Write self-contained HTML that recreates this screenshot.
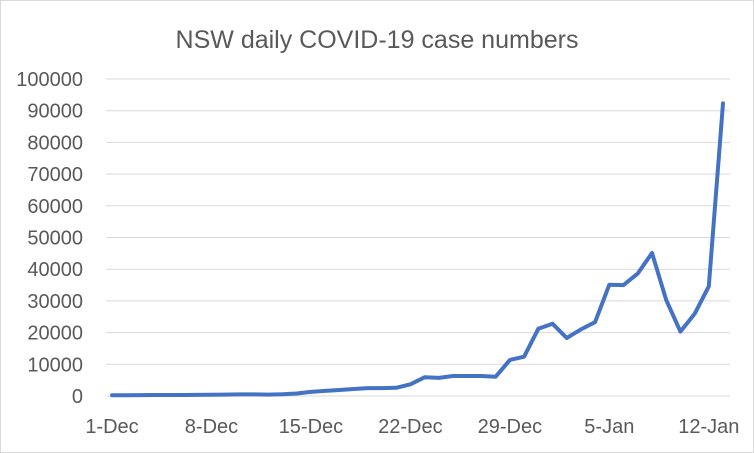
<!DOCTYPE html>
<html><head><meta charset="utf-8"><style>
body{margin:0;background:#fff;}
svg{display:block;font-family:"Liberation Sans",Calibri,sans-serif;}
</style></head><body>
<svg width="754" height="453">
<rect x="0.5" y="0.5" width="753" height="452" fill="#fff" stroke="#d9d9d9"/>
<text x="377" y="48" text-anchor="middle" font-size="25" fill="#595959">NSW daily COVID-19 case numbers</text>
<g id="grid"></g><g id="ylab"></g><g id="xlab"></g>
<polyline id="line" fill="none" stroke="#4472C4" stroke-width="4" stroke-linejoin="round" stroke-linecap="round"/>
</svg>
<script>
const xTickLabels=["1-Dec","8-Dec","15-Dec","22-Dec","29-Dec","5-Jan","12-Jan"];
const yTicks=[0,10000,20000,30000,40000,50000,60000,70000,80000,90000,100000];
const cases=[250,260,270,300,320,320,340,400,450,500,520,430,550,800,1300,1600,1900,2200,2500,2500,2600,3700,5900,5700,6300,6300,6300,6100,11400,12400,21200,22800,18300,21000,23300,35100,35000,38600,45100,30300,20300,25900,34600,92300];
const NS="http://www.w3.org/2000/svg";
const x=i=>112+i*(611/43);
const y=v=>396-v*(317/100000);
const grid=document.getElementById('grid'),yl=document.getElementById('ylab'),xl=document.getElementById('xlab');
yTicks.forEach(t=>{
 const l=document.createElementNS(NS,'line');
 l.setAttribute('x1',106);l.setAttribute('x2',730);l.setAttribute('y1',y(t));l.setAttribute('y2',y(t));
 l.setAttribute('stroke','#d9d9d9');l.setAttribute('stroke-width','1');
 
 
 grid.appendChild(l);
 const tx=document.createElementNS(NS,'text');
 tx.setAttribute('x',83);tx.setAttribute('y',y(t)+7);tx.setAttribute('text-anchor','end');
 tx.setAttribute('font-size','20');tx.setAttribute('fill','#595959');tx.textContent=t;
 
 
 yl.appendChild(tx);
});
xTickLabels.forEach((s,k)=>{
 const tx=document.createElementNS(NS,'text');
 tx.setAttribute('x',x(k*7));tx.setAttribute('y',433);tx.setAttribute('text-anchor','middle');
 tx.setAttribute('font-size','20');tx.setAttribute('fill','#595959');tx.textContent=s;
 
 
 xl.appendChild(tx);
});
document.getElementById('line').setAttribute('points',cases.map((v,i)=>x(i).toFixed(1)+','+y(v).toFixed(1)).join(' '));
</script>
</body></html>
